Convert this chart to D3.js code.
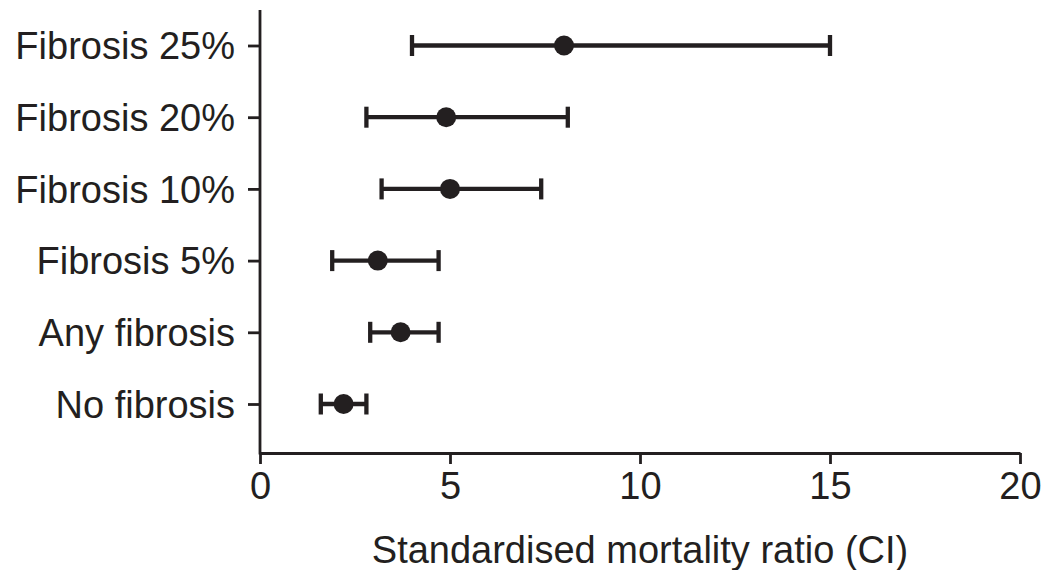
<!DOCTYPE html>
<html>
<head>
<meta charset="utf-8">
<script src="https://cdn.jsdelivr.net/npm/d3@7"></script>
<style>
  html, body { margin: 0; padding: 0; background: #fff; }
  svg { display: block; }
  text { font-family: "Liberation Sans", Arial, Helvetica, sans-serif; fill: #231f20; }
</style>
</head>
<body>
<svg id="chart" width="1041" height="570"></svg>
<script>
const categories = ["Fibrosis 25%", "Fibrosis 20%", "Fibrosis 10%", "Fibrosis 5%", "Any fibrosis", "No fibrosis"];
const smr   = [8.0, 4.9, 5.0, 3.1, 3.7, 2.2];
const lower = [4.0, 2.8, 3.2, 1.9, 2.9, 1.6];
const upper = [15.0, 8.1, 7.4, 4.7, 4.7, 2.8];
const xTicks = [0, 5, 10, 15, 20];
const xTitle = "Standardised mortality ratio (CI)";

const ink = "#231f20";
const fs = 38;
const svg = d3.select("#chart");

const x = d3.scaleLinear().domain([0, 20]).range([260, 1020]);
const y = d3.scalePoint().domain(categories).range([45.5, 404]);
const axisTop = 10, axisBottom = 453;

const data = categories.map((c, i) => ({ c, v: smr[i], lo: lower[i], hi: upper[i] }));

// Y axis
const yAxis = svg.append("g")
  .attr("transform", `translate(${x(0)},0)`)
  .call(d3.axisLeft(y).tickSize(12).tickPadding(13));
yAxis.select(".domain").remove();
yAxis.selectAll(".tick line").attr("stroke", ink).attr("stroke-width", 2.8);
yAxis.selectAll(".tick text")
  .attr("font-size", fs)
  .attr("dy", "0.35em")
  .style("font-family", "'Liberation Sans', Arial, sans-serif")
  .attr("fill", ink);
svg.append("line")
  .attr("x1", x(0)).attr("x2", x(0))
  .attr("y1", axisTop).attr("y2", axisBottom + 1.4)
  .attr("stroke", ink).attr("stroke-width", 2.8);

// X axis
const xAxis = svg.append("g")
  .attr("transform", `translate(0,${axisBottom})`)
  .call(d3.axisBottom(x).tickValues(xTicks).tickSize(11).tickPadding(8).tickSizeOuter(0));
xAxis.select(".domain").attr("stroke", ink).attr("stroke-width", 2.8);
xAxis.selectAll(".tick line").attr("stroke", ink).attr("stroke-width", 2.8);
xAxis.selectAll(".tick text")
  .attr("font-size", fs)
  .style("font-family", "'Liberation Sans', Arial, sans-serif")
  .attr("fill", ink);

svg.append("text")
  .attr("x", (x(0) + x(20)) / 2)
  .attr("y", 563)
  .attr("text-anchor", "middle")
  .attr("font-size", fs)
  .text(xTitle);

// Error bars
const g = svg.append("g");
g.selectAll("line.ci").data(data).join("line")
  .attr("class", "ci")
  .attr("x1", d => x(d.lo)).attr("x2", d => x(d.hi))
  .attr("y1", d => y(d.c)).attr("y2", d => y(d.c))
  .attr("stroke", ink).attr("stroke-width", 4.3);
g.selectAll("line.capL").data(data).join("line")
  .attr("class", "capL")
  .attr("x1", d => x(d.lo)).attr("x2", d => x(d.lo))
  .attr("y1", d => y(d.c) - 10.5).attr("y2", d => y(d.c) + 10.5)
  .attr("stroke", ink).attr("stroke-width", 4.3);
g.selectAll("line.capR").data(data).join("line")
  .attr("class", "capR")
  .attr("x1", d => x(d.hi)).attr("x2", d => x(d.hi))
  .attr("y1", d => y(d.c) - 10.5).attr("y2", d => y(d.c) + 10.5)
  .attr("stroke", ink).attr("stroke-width", 4.3);
g.selectAll("circle").data(data).join("circle")
  .attr("cx", d => x(d.v)).attr("cy", d => y(d.c))
  .attr("r", 10)
  .attr("fill", ink);
</script>
</body>
</html>
